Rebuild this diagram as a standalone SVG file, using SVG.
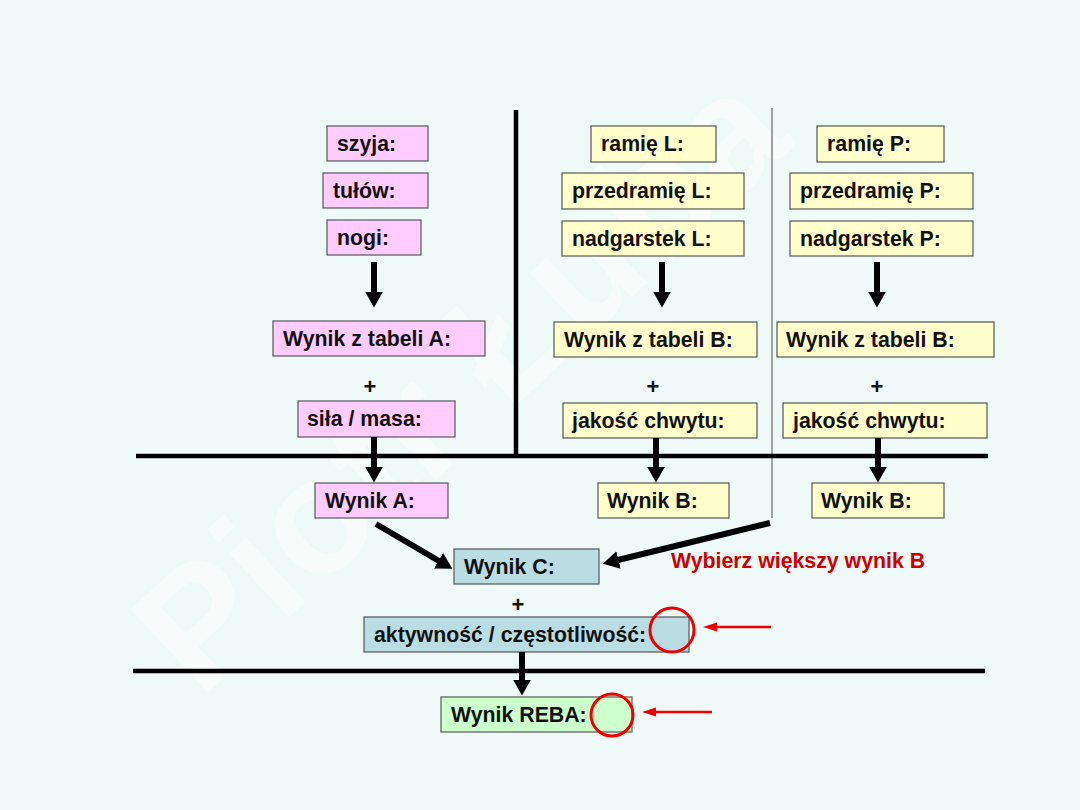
<svg xmlns="http://www.w3.org/2000/svg" width="1080" height="810" viewBox="0 0 1080 810">
<defs>
<style>
.bx{stroke:#555;stroke-width:1.2}
.pk{fill:#ffccff}
.yl{fill:#ffffcc}
.bl{fill:#b9dde2}
.gr{fill:#ccffcc}
.t{font-family:"Liberation Sans",Arial,sans-serif;font-weight:bold;font-size:21.3px;fill:#111}
.pl{font-family:"Liberation Sans",Arial,sans-serif;font-weight:bold;font-size:22px;fill:#111;text-anchor:middle}
.ln{stroke:#000;stroke-width:4.5;fill:none}
.ar{stroke:#000;stroke-width:6;fill:none;marker-end:url(#ah)}
.ra{stroke:#ee0000;stroke-width:2.5;fill:none}
.rc{stroke:#ee0000;stroke-width:3;fill:none}
</style>
<marker id="ah" markerUnits="userSpaceOnUse" markerWidth="16" markerHeight="18" viewBox="0 0 16 18" refX="0.5" refY="9" orient="auto">
<path d="M0,0 L16,9 L0,18 z" fill="#000"/>
</marker>
</defs>
<rect x="0" y="0" width="1080" height="810" fill="#eff9f7"/>
<text x="200" y="700" transform="rotate(-43 200 700)" font-family="'Liberation Sans',Arial,sans-serif" font-weight="bold" font-size="165" fill="#ffffff" opacity="0.55">Piotr Łuba</text>

<g id="lines">
<line class="ln" x1="516" y1="110" x2="516" y2="456"/>
<line x1="772" y1="108" x2="772" y2="518" stroke="#666" stroke-width="1.2"/>
<line class="ln" x1="136" y1="456" x2="988" y2="456"/>
<line class="ln" x1="133" y1="671" x2="985" y2="671"/>
</g>

<g id="nodes">
<g id="szyja"><rect class="bx pk" x="327" y="126" width="101" height="35"/><text class="t" x="337" y="151">szyja:</text></g>
<g id="tulow"><rect class="bx pk" x="323" y="173" width="105" height="35"/><text class="t" x="333" y="198">tułów:</text></g>
<g id="nogi"><rect class="bx pk" x="327" y="220" width="94" height="35"/><text class="t" x="337" y="245">nogi:</text></g>
<g id="tabelaA"><rect class="bx pk" x="273" y="321" width="212" height="35"/><text class="t" x="283" y="346">Wynik z tabeli A:</text></g>
<g id="sila"><rect class="bx pk" x="298" y="401" width="157" height="36"/><text class="t" x="307" y="426">siła / masa:</text></g>
<g id="wynikA"><rect class="bx pk" x="315" y="483" width="133" height="35"/><text class="t" x="325" y="508">Wynik A:</text></g>

<g id="ramieL"><rect class="bx yl" x="591" y="126" width="125" height="36"/><text class="t" x="601" y="151">ramię L:</text></g>
<g id="przedramieL"><rect class="bx yl" x="562" y="173" width="182" height="36"/><text class="t" x="572" y="198">przedramię L:</text></g>
<g id="nadgarstekL"><rect class="bx yl" x="562" y="221" width="182" height="35"/><text class="t" x="572" y="246">nadgarstek L:</text></g>
<g id="tabelaBL"><rect class="bx yl" x="554" y="322" width="203" height="35"/><text class="t" x="564" y="347">Wynik z tabeli B:</text></g>
<g id="chwytL"><rect class="bx yl" x="563" y="403" width="194" height="35"/><text class="t" x="572" y="428">jakość chwytu:</text></g>
<g id="wynikBL"><rect class="bx yl" x="598" y="483" width="131" height="35"/><text class="t" x="607" y="508">Wynik B:</text></g>

<g id="ramieP"><rect class="bx yl" x="817" y="126" width="127" height="36"/><text class="t" x="827" y="151">ramię P:</text></g>
<g id="przedramieP"><rect class="bx yl" x="790" y="173" width="183" height="36"/><text class="t" x="800" y="198">przedramię P:</text></g>
<g id="nadgarstekP"><rect class="bx yl" x="790" y="221" width="183" height="35"/><text class="t" x="800" y="246">nadgarstek P:</text></g>
<g id="tabelaBP"><rect class="bx yl" x="777" y="322" width="217" height="35"/><text class="t" x="786" y="347">Wynik z tabeli B:</text></g>
<g id="chwytP"><rect class="bx yl" x="783" y="403" width="204" height="35"/><text class="t" x="793" y="428">jakość chwytu:</text></g>
<g id="wynikBP"><rect class="bx yl" x="812" y="483" width="132" height="35"/><text class="t" x="821" y="508">Wynik B:</text></g>

<g id="wynikC"><rect class="bx bl" x="454" y="549" width="145" height="35"/><text class="t" x="464" y="574">Wynik C:</text></g>
<g id="aktywnosc"><rect class="bx bl" x="364" y="617" width="325" height="35"/><text class="t" x="374" y="642">aktywność / częstotliwość:</text></g>
<g id="reba"><rect class="bx gr" x="441" y="697" width="191" height="35"/><text class="t" x="451" y="722">Wynik REBA:</text></g>

<g id="plus">
<text class="pl" x="370" y="394">+</text>
<text class="pl" x="653" y="394">+</text>
<text class="pl" x="877" y="394">+</text>
<text class="pl" x="518" y="612">+</text>
</g>

<g id="note">
<text x="671" y="568" font-family="'Liberation Sans',Arial,sans-serif" font-weight="bold" font-size="21.3" fill="#cc0000">Wybierz większy wynik B</text>
<circle class="rc" cx="672" cy="630" r="22"/>
<circle class="rc" cx="612" cy="715" r="21"/>
</g>
</g>

<g id="connectors">
<line class="ar" x1="374" y1="262" x2="374" y2="292"/>
<line class="ar" x1="662" y1="262" x2="662" y2="292"/>
<line class="ar" x1="877" y1="262" x2="877" y2="292"/>
<line class="ar" x1="374" y1="437" x2="374" y2="467"/>
<line class="ar" x1="656" y1="438" x2="656" y2="467"/>
<line class="ar" x1="878" y1="438" x2="878" y2="467"/>
<line class="ar" x1="522" y1="652" x2="522" y2="680"/>
<line class="ar" x1="376" y1="524" x2="439" y2="561"/>
<line class="ar" x1="770" y1="523" x2="618" y2="560"/>
<line class="ra" x1="771" y1="627" x2="714" y2="627"/>
<path d="M703,627 L717,622.5 L717,631.5 z" fill="#ee0000"/>
<line class="ra" x1="712" y1="712" x2="653" y2="712"/>
<path d="M642,712 L656,707.5 L656,716.5 z" fill="#ee0000"/>
</g>
</svg>
